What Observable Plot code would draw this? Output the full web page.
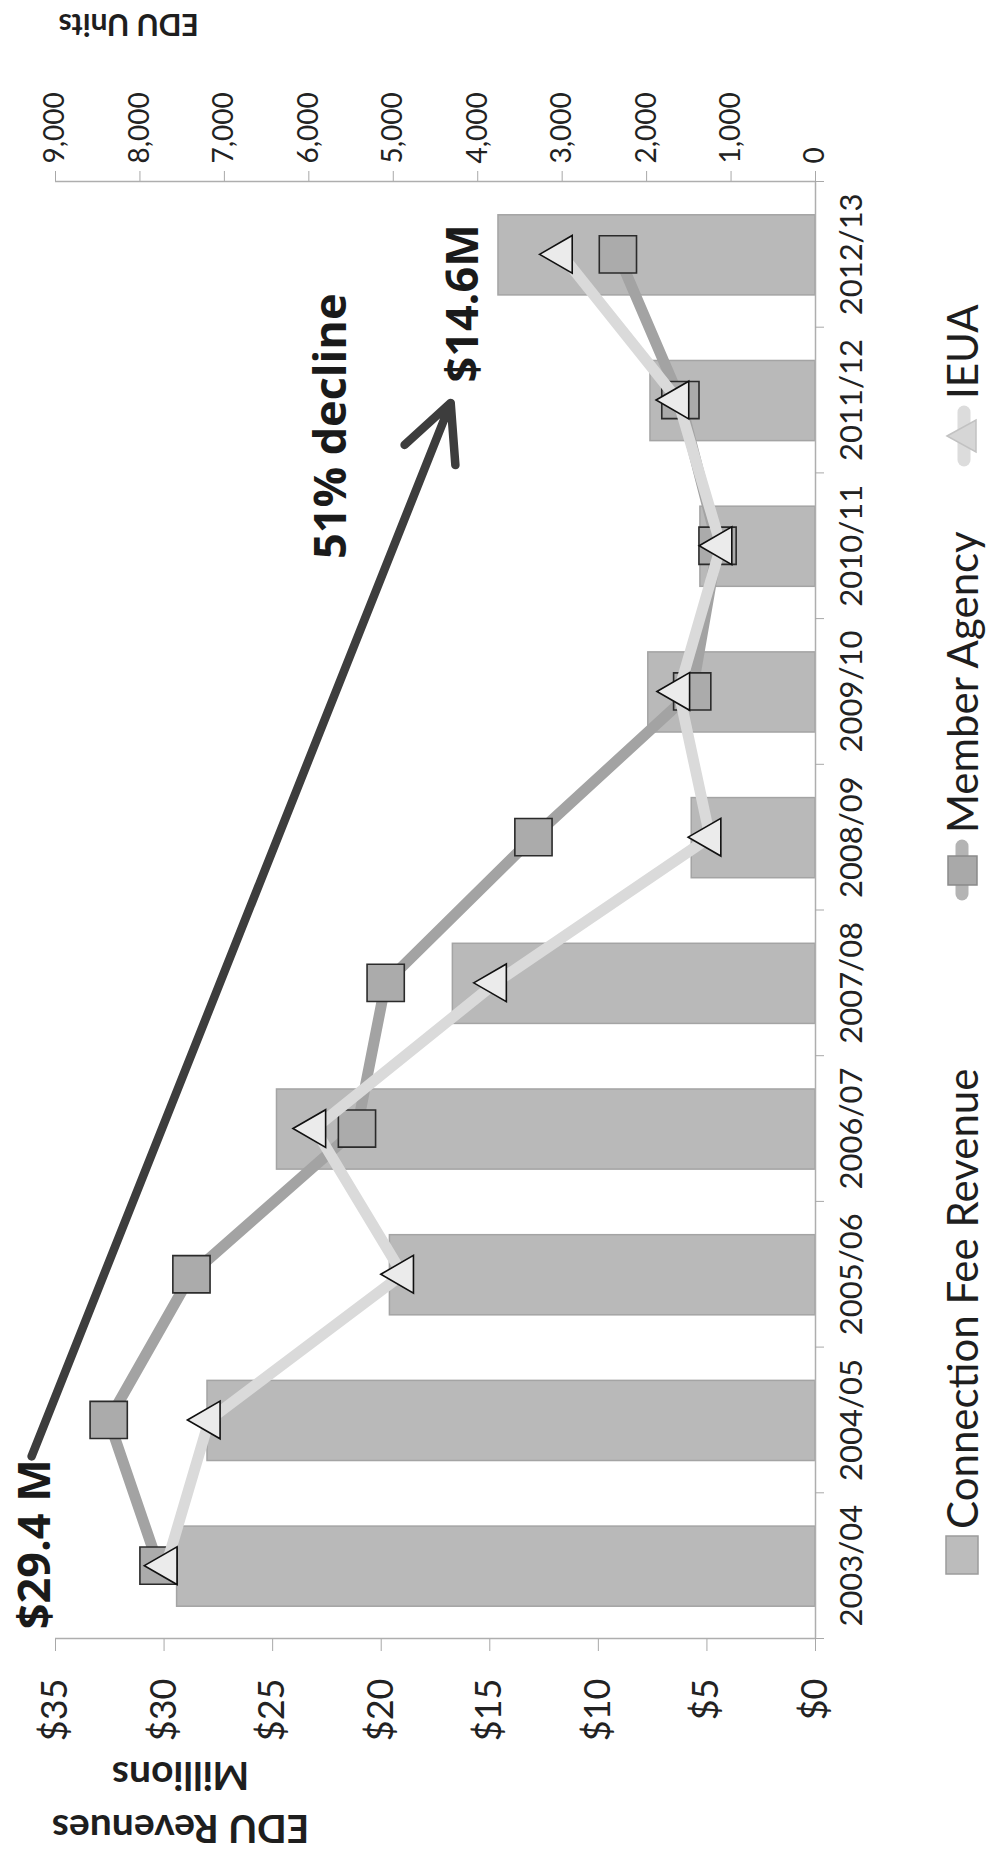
<!DOCTYPE html>
<html>
<head>
<meta charset="utf-8">
<script src="https://cdn.jsdelivr.net/npm/d3@7"></script>
<script src="https://cdn.jsdelivr.net/npm/@observablehq/plot@0.6"></script>
<style>
  html, body { margin: 0; padding: 0; background: #fff; overflow: hidden; width: 989px; height: 1860px; }
  #stage { position: absolute; left: 0; top: 0; width: 1860px; height: 989px; background: #fff;
           transform-origin: 0 0; transform: translateY(1860px) rotate(-90deg); }
  #chart svg { display: block; }
  .lg-item { position: absolute; top: 935px; height: 54px; display: flex; align-items: center;
             font-family: Lato, sans-serif; font-size: 42px; color: #1e1e1e; white-space: nowrap; }
  .lg-item svg { display: block; margin-right: 6px; }
</style>
</head>
<body>
<div id="stage">
  <div id="chart"></div>
  <div id="legend"></div>
</div>
<script>
// ---------- data ----------
const years = ["2003/04", "2004/05", "2005/06", "2006/07", "2007/08",
               "2008/09", "2009/10", "2010/11", "2011/12", "2012/13"];
// Connection Fee Revenue, $ millions (left axis)
const revenue = [29.4, 28.0, 19.6, 24.8, 16.7, 5.7, 7.7, 5.3, 7.6, 14.6];
// EDU units (right axis)
const memberAgency = [7780, 8370, 7390, 5430, 5090, 3340, 1460, 1160, 1600, 2340];
const ieua = [7690, 7180, 4890, 5930, 3790, 1250, 1620, 1120, 1630, 3010];
const revenueTicks = [0, 5, 10, 15, 20, 25, 30, 35];
const unitTicks = [0, 1000, 2000, 3000, 4000, 5000, 6000, 7000, 8000, 9000];
const seriesNames = ["Connection Fee Revenue", "Member Agency", "IEUA"];

const REV_MAX = 35, UNIT_MAX = 9000;
const toRev = u => u * REV_MAX / UNIT_MAX;
const toUnits = r => r * UNIT_MAX / REV_MAX;

const rows = years.map((year, i) => ({
  year, pos: i + 0.5,
  revenue: revenue[i],
  member: toRev(memberAgency[i]),
  ieua: toRev(ieua[i])
}));
const bandEdges = d3.range(years.length + 1);
const barHalf = 0.275;

const boldText = { fontWeight: "bold", fill: "#1e1e1e", rotate: -90, lineAnchor: "middle" };
const noteText = { fontFamily: "'Open Sans', sans-serif", fontWeight: "bold", fontSize: 45, fill: "#1a1a1a", lineAnchor: "middle" };

const chart = Plot.plot({
  width: 1860,
  height: 930,
  marginLeft: 221,
  marginRight: 182,
  marginTop: 55,
  marginBottom: 115,
  style: { fontFamily: "Lato, sans-serif", background: "transparent", overflow: "visible" },
  x: { domain: [0, years.length] },
  y: { domain: [0, REV_MAX] },
  marks: [
    // bars
    Plot.rectY(rows, {
      x1: d => d.pos - barHalf, x2: d => d.pos + barHalf, y1: 0, y2: "revenue",
      fill: "#b9b9b9", stroke: "#a4a4a4", strokeWidth: 1.5
    }),
    // axis lines
    Plot.ruleY([0], { stroke: "#aeaeae", strokeWidth: 1.5 }),
    Plot.ruleX([0, years.length], { stroke: "#aeaeae", strokeWidth: 1.5 }),
    // category axis: tick marks between categories, labels at centers
    Plot.axisX({ ticks: bandEdges, tickSize: 9, tickFormat: () => "", color: "#a8a8a8", label: null }),
    Plot.axisX({ ticks: rows.map(d => d.pos), tickFormat: v => years[Math.floor(v)], tickSize: 0,
                 tickPadding: 24, fontSize: 31, fill: "#222", label: null }),
    // left revenue axis
    Plot.axisY({ anchor: "left", ticks: revenueTicks, tickSize: 12, tickFormat: () => "", color: "#a8a8a8", label: null }),
    Plot.axisY({ anchor: "left", ticks: revenueTicks, tickSize: 0, tickPadding: 40,
                 tickFormat: v => "$" + v, fontSize: 36, fill: "#222", label: null }),
    // right EDU-units axis
    Plot.axisY({ anchor: "right", ticks: unitTicks.map(toRev), tickSize: 10, tickFormat: () => "", color: "#a8a8a8", label: null }),
    Plot.axisY({ anchor: "right", ticks: unitTicks.map(toRev), tickSize: 0, tickPadding: 18,
                 tickFormat: v => d3.format(",")(Math.round(toUnits(v))), fontSize: 28, fill: "#222", label: null }),
    // axis titles (placed in scale space, beyond the plotting frame)
    Plot.text([{ x: -1.146, y: 29.24, t: "EDU Revenues\nMillions" }], {
      x: "x", y: "y", text: "t", lineHeight: 1.36, fontSize: 39, textAnchor: "middle", ...boldText
    }),
    Plot.text([{ x: 11.085, y: 28.4, t: "EDU Units" }], {
      x: "x", y: "y", text: "t", fontSize: 30, textAnchor: "start", ...boldText
    }),
    // Member Agency series
    Plot.line(rows, { x: "pos", y: "member", stroke: "#a3a3a3", strokeWidth: 11, strokeLinejoin: "round", strokeLinecap: "round" }),
    Plot.dot(rows, { x: "pos", y: "member", symbol: "square", r: 21, fill: "#ababab", stroke: "#2b2b2b", strokeWidth: 1.6 }),
    // IEUA series
    Plot.line(rows, { x: "pos", y: "ieua", stroke: "#dadada", strokeWidth: 11, strokeLinejoin: "round", strokeLinecap: "round" }),
    Plot.dot(rows, { x: "pos", y: "ieua", symbol: "triangle", r: 14, fill: "#ebebeb", stroke: "#111", strokeWidth: 1.6 }),
    // annotation arrow and labels
    Plot.arrow([{ x1: 1.25, y1: 36.1, x2: 8.48, y2: 16.8 }], {
      x1: "x1", y1: "y1", x2: "x2", y2: "y2",
      stroke: "#3d3d3d", strokeWidth: 8.5, headLength: 11, headAngle: 52,
      strokeLinecap: "round", strokeLinejoin: "round"
    }),
    Plot.text([{ x: 1.23, y: 35.9, t: "$29.4 M" }], { x: "x", y: "y", text: "t", textAnchor: "end", ...noteText }),
    Plot.text([{ x: 8.62, y: 16.2, t: "$14.6M" }], { x: "x", y: "y", text: "t", textAnchor: "start", ...noteText }),
    Plot.text([{ x: 8.32, y: 22.3, t: "51% decline" }], { x: "x", y: "y", text: "t", textAnchor: "middle", ...noteText })
  ]
});
document.getElementById("chart").appendChild(chart);

// ---------- legend (below the SVG, inside the rotated stage) ----------
const legend = document.getElementById("legend");
const ns = "http://www.w3.org/2000/svg";
function swatch(kind) {
  const s = document.createElementNS(ns, "svg");
  if (kind === 0) {
    s.setAttribute("width", 40); s.setAttribute("height", 34);
    s.innerHTML = '<rect x="1" y="1" width="38" height="32" fill="#bcbcbc" stroke="#9c9c9c" stroke-width="1.5"/>';
  } else if (kind === 1) {
    s.setAttribute("width", 62); s.setAttribute("height", 40);
    s.innerHTML = '<line x1="7" y1="20" x2="55" y2="20" stroke="#b4b4b4" stroke-width="13" stroke-linecap="round"/>' +
                  '<rect x="16" y="6" width="29" height="29" fill="#a9a9a9" stroke="#8a8a8a" stroke-width="1.5"/>';
  } else {
    s.setAttribute("width", 62); s.setAttribute("height", 40);
    s.innerHTML = '<line x1="7" y1="22" x2="55" y2="22" stroke="#dcdcdc" stroke-width="13" stroke-linecap="round"/>' +
                  '<path d="M31,5 L47,34 L15,34 Z" fill="#d6d6d6" stroke="#c2c2c2" stroke-width="1.5"/>';
  }
  return s;
}
const legendLeft = [285, 959, 1393];
seriesNames.forEach((name, k) => {
  const item = document.createElement("div");
  item.className = "lg-item";
  item.style.left = legendLeft[k] + "px";
  item.appendChild(swatch(k));
  const label = document.createElement("span");
  label.textContent = name;
  item.appendChild(label);
  legend.appendChild(item);
});
</script>
</body>
</html>
